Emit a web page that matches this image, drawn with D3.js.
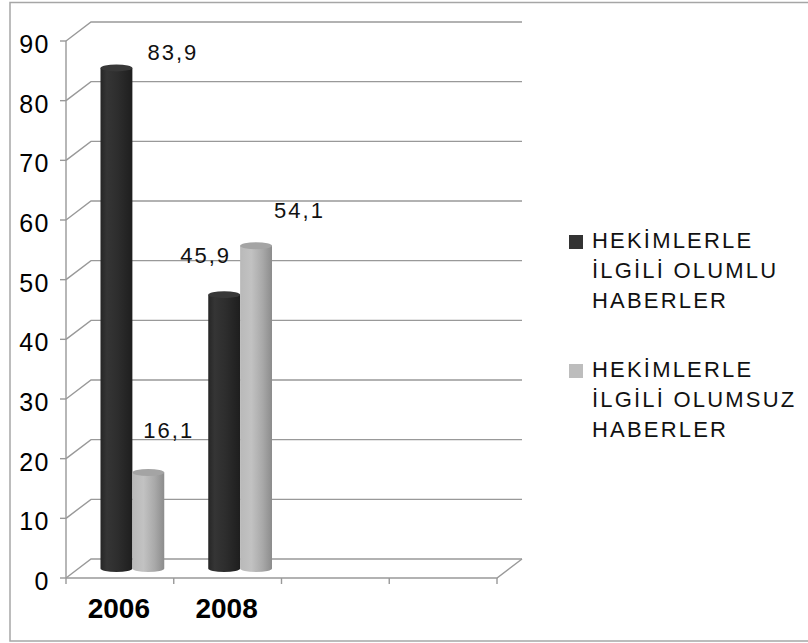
<!DOCTYPE html>
<html><head><meta charset="utf-8">
<script src="https://cdn.jsdelivr.net/npm/d3@7"></script>
<style>body{margin:0;background:#fff;}svg{display:block;font-family:"Liberation Sans",Arial,sans-serif;}</style>
</head><body>
<svg id="c" width="808" height="643"></svg>
<script>
// ---- data ----
const categories = ["2006", "2008", "", ""];
const seriesNames = ["HEKİMLERLE İLGİLİ OLUMLU HABERLER", "HEKİMLERLE İLGİLİ OLUMSUZ HABERLER"];
const olumlu = [83.9, 45.9];
const olumsuz = [16.1, 54.1];
const yTicks = [0, 10, 20, 30, 40, 50, 60, 70, 80, 90];
const valueLabels = [["83,9", "45,9"], ["16,1", "54,1"]];

// ---- layout / style ----
const legendLines = [["HEKİMLERLE", "İLGİLİ OLUMLU", "HABERLER"], ["HEKİMLERLE", "İLGİLİ OLUMSUZ", "HABERLER"]];
const labelNudge = [[[31, -8], [-44, -32]], [[-5, -34], [18, -28]]]; // [series][cat] -> [dx from bar centre, dy from bar top]
const DX = 25, DY = -19;
const svg = d3.select("#c");
const defs = svg.append("defs");

// outer frame
svg.append("rect").attr("x", 10).attr("y", 2.5).attr("width", 820).attr("height", 638.5)
  .attr("fill", "none").attr("stroke", "#a6a6a6").attr("stroke-width", 1.5);

const y = d3.scaleLinear().domain([0, 90]).range([578, 41]);
const x0 = d3.scaleBand().domain(d3.range(categories.length)).range([66, 497]).padding(0);
const x1 = d3.scaleBand().domain([0, 1]).range([22, x0.bandwidth() - 22]).padding(0);

const grid = svg.append("g").attr("stroke", "#999").attr("stroke-width", 1.4).attr("fill", "none");
yTicks.forEach(v => {
  const yy = y(v);
  grid.append("path").attr("d", `M${x0.range()[0]},${yy}L${x0.range()[0] + DX},${yy + DY}L${x0.range()[1] + DX},${yy + DY}`);
  grid.append("line").attr("x1", x0.range()[0] - 6).attr("x2", x0.range()[0]).attr("y1", yy).attr("y2", yy);
});
// front axis & floor
grid.append("line").attr("x1", 66).attr("x2", 66).attr("y1", y(90)).attr("y2", y(0));
grid.append("path").attr("d", `M66,${y(0)}L497,${y(0)}L${497 + DX},${y(0) + DY}`);
d3.range(categories.length + 1).forEach(i => {
  const xx = i < categories.length ? x0(i) : x0.range()[1];
  grid.append("line").attr("x1", xx).attr("x2", xx).attr("y1", y(0)).attr("y2", y(0) + 6);
});

// y tick labels
svg.append("g").selectAll("text").data(yTicks).join("text")
  .attr("x", 50).attr("y", d => y(d) + 12).attr("text-anchor", "end")
  .attr("font-size", 25).attr("letter-spacing", 1.5).attr("fill", "#000").text(d => d);

// category labels
svg.append("g").selectAll("text").data(categories).join("text")
  .attr("x", (d, i) => x0(i) + x0.bandwidth() / 2 - 1).attr("y", 618).attr("text-anchor", "middle")
  .attr("font-size", 28).attr("font-weight", "bold").attr("fill", "#000").text(d => d);

// gradients
function grad(id, stops) {
  const g = defs.append("linearGradient").attr("id", id).attr("x1", 0).attr("x2", 1).attr("y1", 0).attr("y2", 0);
  stops.forEach(s => g.append("stop").attr("offset", s[0]).attr("stop-color", s[1]));
}
grad("gDark", [[0, "#262626"], [0.2, "#353535"], [0.55, "#2d2d2d"], [1, "#1e1e1e"]]);
grad("gLight", [[0, "#b9b9b9"], [0.35, "#c2c2c2"], [0.7, "#a9a9a9"], [1, "#8c8c8c"]]);
const topCol = ["#383838", "#a4a4a4"];
const gradIds = ["gDark", "gLight"];

const series = [olumlu, olumsuz];
const bars = svg.append("g");
series.forEach((vals, s) => {
  vals.forEach((v, c) => {
    const bx = x0(c) + x1(s) + DX / 2;
    const w = x1.bandwidth();
    const top = y(v) + DY / 2, bot = y(0) + DY / 2;
    const ry = 3.5;
    bars.append("path")
      .attr("d", `M${bx},${top}L${bx},${bot}A${w / 2},${ry} 0 0 0 ${bx + w},${bot}L${bx + w},${top}Z`)
      .attr("fill", `url(#${gradIds[s]})`);
    bars.append("ellipse").attr("cx", bx + w / 2).attr("cy", top).attr("rx", w / 2).attr("ry", ry)
      .attr("fill", topCol[s]);
  });
});

// value labels
const lab = svg.append("g");
series.forEach((vals, s) => {
  vals.forEach((v, c) => {
    const bx = x0(c) + x1(s) + DX / 2 + x1.bandwidth() / 2;
    const top = y(v) + DY / 2;
    lab.append("text").attr("x", bx + labelNudge[s][c][0]).attr("y", top + labelNudge[s][c][1])
      .attr("font-size", 22).attr("letter-spacing", 2).attr("fill", "#111").text(valueLabels[s][c]);
  });
});

// legend
const legCols = ["#333333", "#bdbdbd"];
const leg = svg.append("g");
seriesNames.forEach((n, i) => {
  const base = 248 + i * 129;
  leg.append("rect").attr("x", 569).attr("y", base - 13).attr("width", 14).attr("height", 14).attr("fill", legCols[i]);
  legendLines[i].forEach((t, j) => {
    leg.append("text").attr("x", 592).attr("y", base + j * 30).attr("font-size", 22)
      .attr("letter-spacing", 2.2).attr("fill", "#111").text(t);
  });
});
</script>
</body></html>
